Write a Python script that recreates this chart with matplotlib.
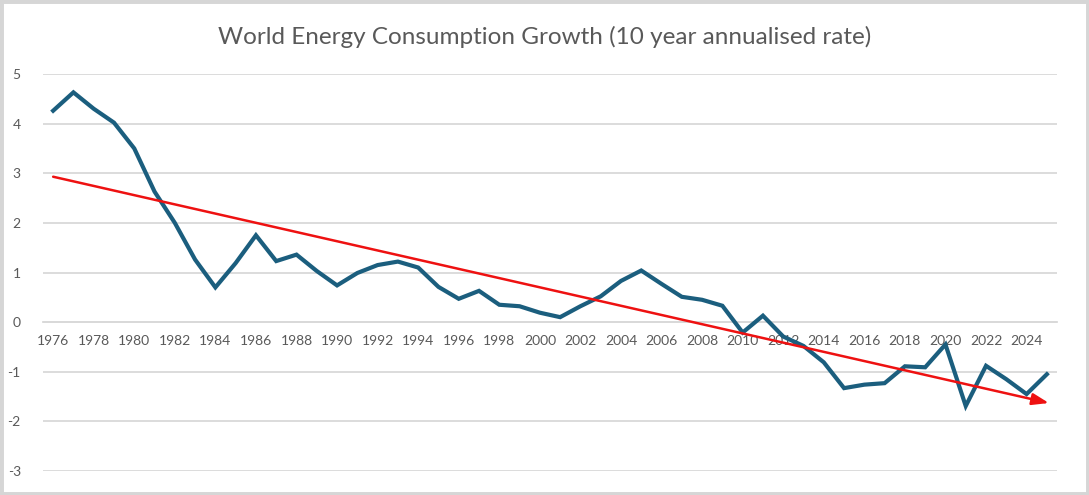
import matplotlib.pyplot as plt
from matplotlib.patches import Rectangle

# Données
years = list(range(1976, 2026))
growth = [4.26, 4.63, 4.30, 4.02, 3.50, 2.63, 2.00, 1.26, 0.70, 1.19,
          1.75, 1.23, 1.36, 1.03, 0.74, 0.99, 1.15, 1.22, 1.10, 0.71,
          0.47, 0.63, 0.35, 0.32, 0.19, 0.10, 0.32, 0.52, 0.83, 1.04,
          0.77, 0.51, 0.45, 0.33, -0.21, 0.13, -0.29, -0.48, -0.81, -1.33,
          -1.26, -1.23, -0.89, -0.91, -0.45, -1.69, -0.88, -1.15, -1.45, -1.05]
trend_start = 2.93
trend_end = -1.63
y_ticks = [-3, -2, -1, 0, 1, 2, 3, 4, 5]

plt.rcParams['font.family'] = ['Lato', 'DejaVu Sans']
text_col = '#595959'
grid_col = '#d9d9d9'

fig = plt.figure(figsize=(10.89, 4.95), dpi=100)
ax = fig.add_axes([43 / 1089, 1 - 471 / 495, 1014 / 1089, 397 / 495])

x = list(range(len(years)))
ax.plot(x, growth, color='#1b5e7e', linewidth=3, solid_joinstyle='miter', zorder=3)

# Flèche de tendance
ax.annotate('', xy=(len(years) - 0.9, trend_end), xytext=(0, trend_start),
            arrowprops=dict(arrowstyle='-|>,head_length=1.0,head_width=0.35',
                            color='#ee1111', linewidth=1.8, shrinkA=0, shrinkB=0),
            zorder=4)

ax.set_xlim(-0.5, len(years) - 0.5)
ax.set_ylim(-3, 5)
ax.set_yticks(y_ticks)
ax.set_yticklabels([str(v) for v in y_ticks])
ax.yaxis.grid(True, color=grid_col, linewidth=1.3)
ax.set_axisbelow(True)

ax.set_xticks(x[::2])
ax.set_xticklabels([str(y) for y in years[::2]])
ax.spines['bottom'].set_position(('data', 0))
ax.spines['bottom'].set_color(grid_col)
ax.spines['bottom'].set_linewidth(1.3)
for s in ['top', 'right', 'left']:
    ax.spines[s].set_visible(False)

ax.tick_params(axis='x', length=0, pad=9, labelsize=10, labelcolor=text_col)
ax.tick_params(axis='y', length=0, pad=16, labelsize=10, labelcolor=text_col)

fig.text(0.5, 1 - 37 / 495, 'World Energy Consumption Growth (10 year annualised rate)',
         ha='center', va='center', fontsize=17.5, color=text_col)

# Cadre gris
fig.patches.append(Rectangle((0, 0), 1, 1, transform=fig.transFigure, fill=False,
                             edgecolor='#d6d6d6', linewidth=5))

fig.savefig('out.png', dpi=100, facecolor='white')
